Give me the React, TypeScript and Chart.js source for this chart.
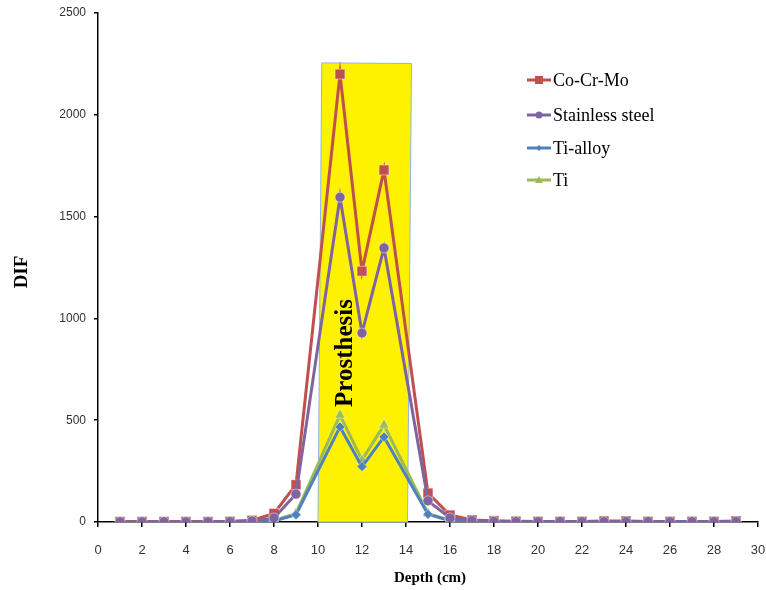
import React, { useEffect, useRef } from "react";
import { Chart, registerables } from "chart.js";

Chart.register(...registerables);

const depths = [1, 2, 3, 4, 5, 6, 7, 8, 9, 11, 12, 13, 15, 16, 17, 18, 19, 20, 21, 22, 23, 24, 25, 26, 27, 28, 29];
const coCrMo = [2, 2, 2, 2, 2, 3, 8, 42, 183, 2200, 1232, 1729, 142, 34, 10, 6, 4, 3, 3, 3, 5, 5, 3, 3, 3, 3, 5];
const stainless = [1, 1, 1, 1, 1, 2, 5, 20, 137, 1595, 928, 1346, 104, 20, 7, 3, 2, 2, 2, 2, 2, 2, 2, 2, 2, 2, 2];
const tiAlloy = [0, 0, 0, 0, 0, 0, 1, 5, 36, 467, 272, 418, 38, 6, 2, 1, 1, 1, 1, 1, 1, 1, 1, 1, 1, 1, 1];
const ti = [0, 0, 0, 0, 0, 0, 1, 8, 42, 525, 305, 476, 42, 8, 2, 1, 1, 1, 1, 1, 1, 1, 1, 1, 1, 1, 1];

const seriesNames = ["Co-Cr-Mo", "Stainless steel", "Ti-alloy", "Ti"];
const seriesColors = ["#C0504D", "#8064A2", "#4F81BD", "#9BBB59"];
const seriesStyles = ["rect", "circle", "rectRot", "triangle"];
const seriesRadius = [7, 5, 5, 6];

// prosthesis region (depth, DIF corners)
const prosthesisX = [10.0, 10.17, 14.25, 14.07];
const prosthesisY = [0, 2255, 2252, 0];

const toPts = (vals: number[]) => depths.map((d, i) => ({ x: d, y: vals[i] }));

function marker(ctx: CanvasRenderingContext2D, style: string, r: number, x: number, y: number) {
  ctx.beginPath();
  if (style === "rect") {
    ctx.rect(x - r, y - r, 2 * r, 2 * r);
  } else if (style === "circle") {
    ctx.arc(x, y, r, 0, Math.PI * 2);
  } else if (style === "rectRot") {
    ctx.moveTo(x, y - r);
    ctx.lineTo(x + r, y);
    ctx.lineTo(x, y + r);
    ctx.lineTo(x - r, y);
    ctx.closePath();
  } else {
    ctx.moveTo(x, y - r);
    ctx.lineTo(x + r, y + r * 0.75);
    ctx.lineTo(x - r, y + r * 0.75);
    ctx.closePath();
  }
  ctx.fill();
}

const legendMarkerR = [4, 3.5, 3, 4];

const overlayPlugin = {
  id: "overlay",
  beforeDatasetsDraw(chart: any) {
    const { ctx, scales } = chart;
    const xs = scales.x;
    const ys = scales.y;
    ctx.save();
    ctx.beginPath();
    prosthesisX.forEach((xv, i) => {
      const px = xs.getPixelForValue(xv);
      const py = ys.getPixelForValue(prosthesisY[i]);
      if (i === 0) ctx.moveTo(px, py);
      else ctx.lineTo(px, py);
    });
    ctx.closePath();
    ctx.fillStyle = "#FFF200";
    ctx.fill();
    ctx.strokeStyle = "#8EB4E3";
    ctx.lineWidth = 1;
    ctx.stroke();
    // Prosthesis label
    const cx = xs.getPixelForValue(11.26);
    const cy = ys.getPixelForValue(830);
    ctx.translate(cx, cy);
    ctx.rotate(-Math.PI / 2);
    ctx.fillStyle = "#000";
    ctx.font = "bold 25px 'Liberation Serif', 'Times New Roman', serif";
    ctx.textAlign = "center";
    ctx.textBaseline = "middle";
    ctx.fillText("Prosthesis", 0, 0);
    ctx.restore();
  },
  afterDraw(chart: any) {
    const { ctx } = chart;
    ctx.save();
    // legend
    const rows = [80, 115, 148, 180];
    ctx.font = "18px 'Liberation Serif', 'Times New Roman', serif";
    ctx.textBaseline = "middle";
    ctx.textAlign = "left";
    seriesNames.forEach((name, i) => {
      const y = rows[i];
      const x0 = 527;
      const x1 = 551;
      ctx.strokeStyle = seriesColors[i];
      ctx.lineWidth = 3;
      ctx.beginPath();
      ctx.moveTo(x0, y);
      ctx.lineTo(x1, y);
      ctx.stroke();
      ctx.fillStyle = seriesColors[i];
      marker(ctx, seriesStyles[i], legendMarkerR[i], (x0 + x1) / 2, y);
      ctx.fillStyle = "#000";
      ctx.fillText(name, x1 + 2, y + 1);
    });
    // axis titles
    ctx.font = "bold 19px 'Liberation Serif', 'Times New Roman', serif";
    ctx.textAlign = "center";
    ctx.translate(22, 272);
    ctx.rotate(-Math.PI / 2);
    ctx.fillText("DIF", 0, 0);
    ctx.setTransform(1, 0, 0, 1, 0, 0);
    ctx.font = "bold 15px 'Liberation Serif', 'Times New Roman', serif";
    ctx.fillText("Depth (cm)", 430, 578);
    ctx.restore();
  },
};

export default function App() {
  const ref = useRef<HTMLCanvasElement>(null);
  useEffect(() => {
    document.body.style.margin = "0";
    // higher order is drawn first (underneath): Ti bottom, Stainless steel top
    const orderMap = [2, 1, 3, 4];
    const vals = [coCrMo, stainless, tiAlloy, ti];
    const chart = new Chart(ref.current!, {
      type: "line",
      data: {
        datasets: seriesNames.map((name, i) => ({
          label: name,
          data: toPts(vals[i]),
          borderColor: seriesColors[i],
          backgroundColor: seriesColors[i],
          pointBackgroundColor: seriesColors[i],
          pointBorderColor: "rgba(255,255,255,0.45)",
          pointBorderWidth: 1,
          pointStyle: seriesStyles[i] as any,
          pointRadius: seriesRadius[i],
          borderWidth: 3,
          tension: 0,
          order: orderMap[i],
        })),
      },
      options: {
        animation: false,
        responsive: false,
        maintainAspectRatio: false,
        layout: { padding: { top: 13, right: 7, left: 0, bottom: 0 } },
        plugins: { legend: { display: false }, tooltip: { enabled: false } },
        scales: {
          x: {
            type: "linear",
            min: 0,
            max: 30,
            afterFit: (s: any) => {
              s.height = 68;
              s.paddingLeft = 0;
              s.paddingRight = 0;
            },
            ticks: {
              stepSize: 2,
              color: "#333",
              font: { family: "'Liberation Sans', Arial, sans-serif", size: 13 },
              padding: 16,
              maxRotation: 0,
              callback: (v: any) => String(v),
            },
            grid: { drawOnChartArea: false, drawTicks: true, tickLength: 5, color: "#000", lineWidth: 1.5 },
            border: { color: "#000", width: 1.5 },
          },
          y: {
            min: 0,
            max: 2500,
            afterFit: (s: any) => {
              s.width = 98;
              s.paddingTop = 0;
              s.paddingBottom = 0;
            },
            ticks: {
              stepSize: 500,
              color: "#333",
              font: { family: "'Liberation Sans', Arial, sans-serif", size: 12 },
              padding: 8,
              callback: (v: any) => String(v),
            },
            grid: { drawOnChartArea: false, drawTicks: true, tickLength: 4, color: "#000", lineWidth: 1.5 },
            border: { color: "#000", width: 1.5 },
          },
        },
      },
      plugins: [overlayPlugin],
    });
    return () => chart.destroy();
  }, []);
  return (
    <div style={{ position: "absolute", left: 0, top: 0, width: 766, height: 590, background: "#fff" }}>
      <canvas ref={ref} width={766} height={590} style={{ width: 766, height: 590 }} />
    </div>
  );
}
